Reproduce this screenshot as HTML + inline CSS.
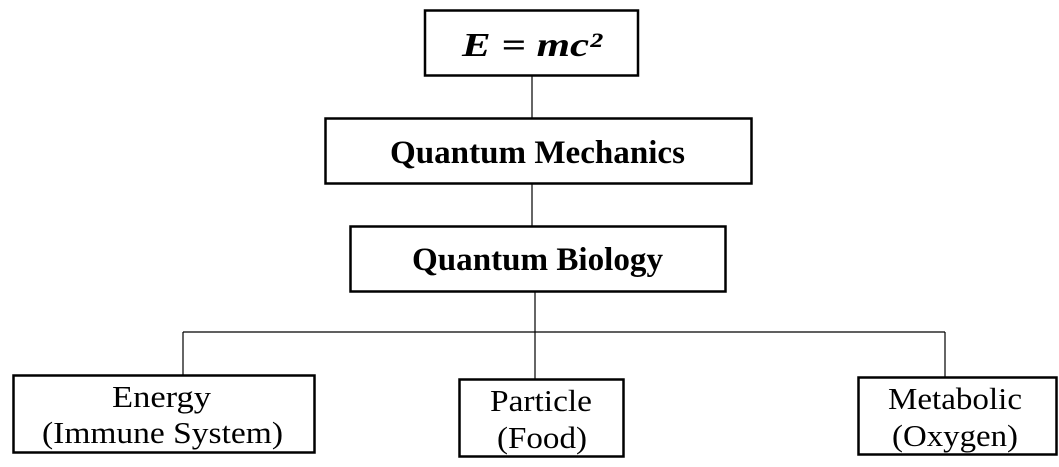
<!DOCTYPE html>
<html><head><meta charset="utf-8"><style>html,body{margin:0;padding:0;background:#fff}svg{display:block}text{font-family:"Liberation Serif","Times New Roman",serif}</style></head>
<body>
<svg width="1059" height="467" viewBox="0 0 1059 467" xmlns="http://www.w3.org/2000/svg">
<g fill="none" stroke="#000">
<rect x="425" y="10.5" width="213" height="65" stroke-width="2.5"/>
<rect x="325.5" y="118.5" width="426" height="65" stroke-width="2.5"/>
<rect x="350.5" y="226.5" width="375" height="65" stroke-width="2.5"/>
<rect x="13.5" y="375.5" width="301" height="77" stroke-width="2.5"/>
<rect x="459.5" y="379.5" width="164" height="77" stroke-width="2.5"/>
<rect x="858.5" y="377.5" width="198" height="77" stroke-width="2.5"/>
<g stroke-width="1.2">
<line x1="532" y1="76" x2="532" y2="118"/>
<line x1="532" y1="184" x2="532" y2="226"/>
<line x1="535" y1="292" x2="535" y2="379"/>
<line x1="183" y1="332" x2="945" y2="332"/>
<line x1="183" y1="332" x2="183" y2="375"/>
<line x1="945" y1="332" x2="945" y2="377"/>
</g>
</g>
<g fill="#000">
<text x="462" y="56" font-size="34" font-weight="bold" font-style="italic" textLength="140" lengthAdjust="spacingAndGlyphs">E = mc²</text>
<text x="390" y="163" font-size="33" font-weight="bold" textLength="295" lengthAdjust="spacingAndGlyphs">Quantum Mechanics</text>
<text x="412" y="270" font-size="33" font-weight="bold" textLength="251" lengthAdjust="spacingAndGlyphs">Quantum Biology</text>
<text x="112" y="407" font-size="31" textLength="99" lengthAdjust="spacingAndGlyphs">Energy</text>
<text x="42" y="443" font-size="31" textLength="241" lengthAdjust="spacingAndGlyphs">(Immune System)</text>
<text x="490" y="411" font-size="31" textLength="102" lengthAdjust="spacingAndGlyphs">Particle</text>
<text x="497" y="448" font-size="31" textLength="90" lengthAdjust="spacingAndGlyphs">(Food)</text>
<text x="888" y="409" font-size="31" textLength="134" lengthAdjust="spacingAndGlyphs">Metabolic</text>
<text x="892" y="446" font-size="31" textLength="126" lengthAdjust="spacingAndGlyphs">(Oxygen)</text>
</g>
</svg>
</body></html>
